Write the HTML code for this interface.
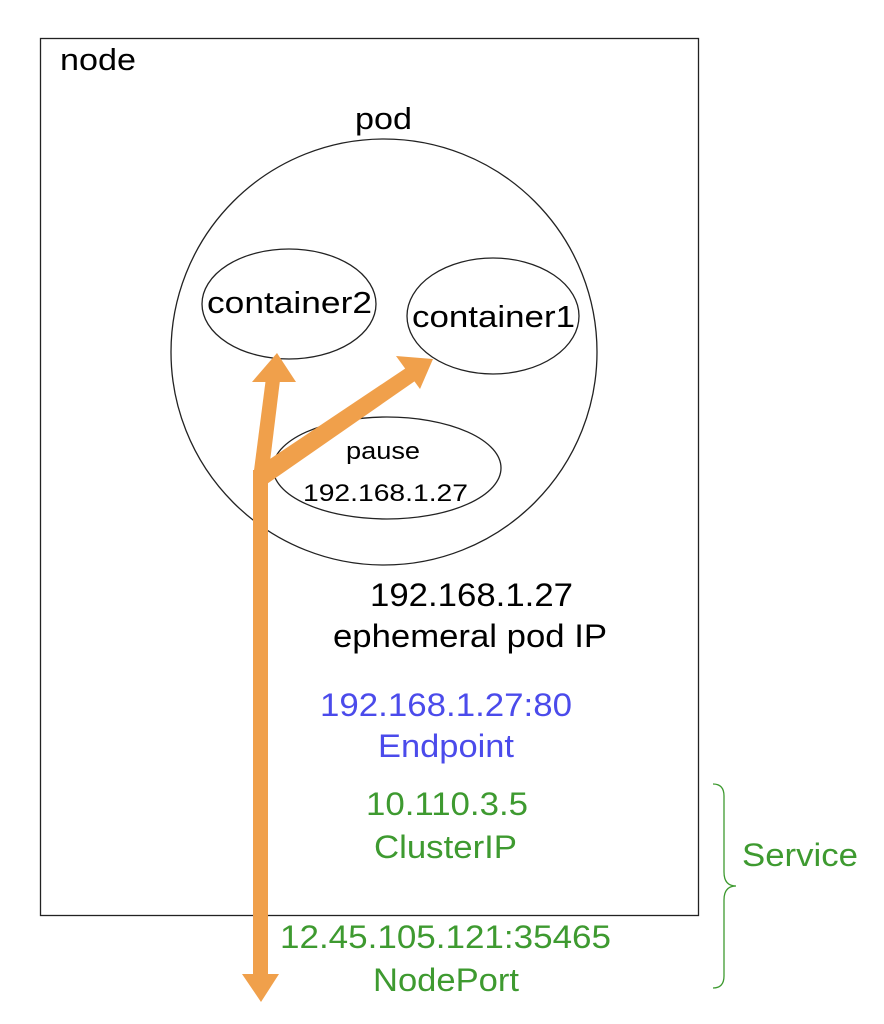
<!DOCTYPE html>
<html><head><style>body{margin:0;background:#fff}svg{display:block}</style></head><body>
<svg width="884" height="1024" viewBox="0 0 884 1024" xmlns="http://www.w3.org/2000/svg" font-family="Liberation Sans, sans-serif">
<rect x="40.5" y="38.5" width="658" height="877" fill="#fff" stroke="#222" stroke-width="1.3"/>
<text x="60" y="70" font-size="31" textLength="76" lengthAdjust="spacingAndGlyphs">node</text>
<text x="355" y="129" font-size="31" textLength="57" lengthAdjust="spacingAndGlyphs">pod</text>
<circle cx="384" cy="352" r="213" fill="none" stroke="#222" stroke-width="1.3"/>
<ellipse cx="289" cy="304" rx="87" ry="55" fill="none" stroke="#222" stroke-width="1.3"/>
<ellipse cx="493" cy="316" rx="86" ry="58" fill="none" stroke="#222" stroke-width="1.3"/>
<ellipse cx="387" cy="468" rx="114" ry="51" fill="none" stroke="#222" stroke-width="1.3"/>
<text x="207" y="313" font-size="31" textLength="165" lengthAdjust="spacingAndGlyphs">container2</text>
<text x="412" y="327" font-size="31" textLength="163" lengthAdjust="spacingAndGlyphs">container1</text>
<text x="346" y="459" font-size="24" textLength="74" lengthAdjust="spacingAndGlyphs">pause</text>
<text x="303" y="501" font-size="24" textLength="165" lengthAdjust="spacingAndGlyphs">192.168.1.27</text>
<g fill="#F0A04B" stroke="none">
<rect x="253" y="470" width="15" height="510"/>
<polygon points="242,974 279,974 261,1002"/>
<polygon points="253,478 268,478 281,372 267,370"/>
<polygon points="252,382 296,382 277,353"/>
<polygon points="255,469 264,486 415,381 406,368"/>
<polygon points="396,356 420,389 433,359"/>
</g>
<g font-size="32" lengthAdjust="spacingAndGlyphs">
<text x="370" y="606" textLength="203" lengthAdjust="spacingAndGlyphs">192.168.1.27</text>
<text x="333" y="647" textLength="274" lengthAdjust="spacingAndGlyphs">ephemeral pod IP</text>
<g fill="#4B4BEB">
<text x="320" y="716" textLength="252" lengthAdjust="spacingAndGlyphs">192.168.1.27:80</text>
<text x="378" y="757" textLength="136" lengthAdjust="spacingAndGlyphs">Endpoint</text>
</g>
<g fill="#3E9A30">
<text x="366" y="815" textLength="162" lengthAdjust="spacingAndGlyphs">10.110.3.5</text>
<text x="374" y="858" textLength="143" lengthAdjust="spacingAndGlyphs">ClusterIP</text>
<text x="280" y="948" textLength="331" lengthAdjust="spacingAndGlyphs">12.45.105.121:35465</text>
<text x="373" y="991" textLength="146" lengthAdjust="spacingAndGlyphs">NodePort</text>
<text x="742" y="866" textLength="116" lengthAdjust="spacingAndGlyphs">Service</text>
</g>
</g>
<path d="M713,784 Q724,784 724,796 L724,872 Q724,886 736,886 Q724,886 724,900 L724,976 Q724,988 713,988" fill="none" stroke="#3E9A30" stroke-width="1.3"/>
</svg>
</body></html>
